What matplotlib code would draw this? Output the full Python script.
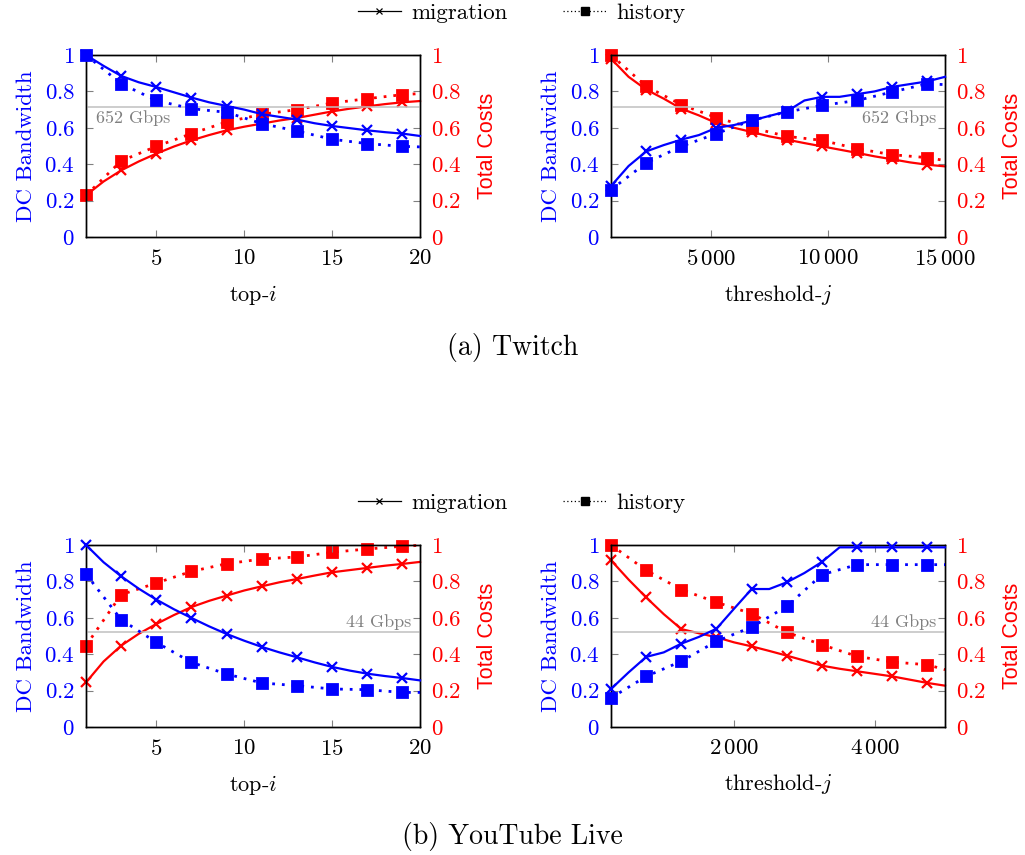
import matplotlib
matplotlib.use('Agg')
import matplotlib.pyplot as plt
from matplotlib.lines import Line2D
from matplotlib.ticker import FixedLocator, FuncFormatter

plt.rcParams['font.family'] = 'serif'
plt.rcParams['font.serif'] = ['cmr10']
plt.rcParams['mathtext.fontset'] = 'cm'
plt.rcParams['axes.unicode_minus'] = False
plt.rcParams['axes.formatter.use_mathtext'] = True

BLUE = '#0000ff'
RED = '#ff0000'

##### TWITCH #####
top_i = [1, 2, 3, 4, 5, 6, 7, 8, 9, 10, 11, 12, 13, 14, 15, 16, 17, 18, 19, 20]
top_i_hist = [1, 3, 5, 7, 9, 11, 13, 15, 17, 19, 20]

tw_top_mig_bw = [1.0, 0.94, 0.885, 0.85, 0.824, 0.795, 0.766, 0.74, 0.72, 0.70,
                 0.675, 0.66, 0.645, 0.625, 0.61, 0.598, 0.586, 0.576, 0.568, 0.555]
tw_top_mig_cost = [0.229, 0.305, 0.366, 0.415, 0.458, 0.497, 0.531, 0.56, 0.586, 0.606,
                   0.623, 0.64, 0.654, 0.672, 0.69, 0.705, 0.718, 0.73, 0.74, 0.747]
tw_top_hist_bw = [1.0, 0.842, 0.75, 0.705, 0.685, 0.623, 0.582, 0.537, 0.513, 0.498, 0.495]
tw_top_hist_cost = [0.229, 0.418, 0.498, 0.568, 0.632, 0.674, 0.70, 0.736, 0.76, 0.782, 0.788]

tw_thr = [750, 1500, 2250, 3000, 3750, 4500, 5250, 6000, 6750, 7500,
          8250, 9000, 9750, 10500, 11250, 12000, 12750, 13500, 14250, 15000]
tw_thr_hist = [750, 2250, 3750, 5250, 6750, 8250, 9750, 11250, 12750, 14250, 15000]

tw_thr_mig_bw = [0.28, 0.39, 0.47, 0.505, 0.535, 0.56, 0.60, 0.615, 0.64, 0.665,
                 0.69, 0.75, 0.77, 0.77, 0.785, 0.80, 0.825, 0.84, 0.855, 0.88]
tw_thr_mig_cost = [0.98, 0.88, 0.81, 0.76, 0.705, 0.668, 0.626, 0.60, 0.577, 0.553,
                   0.535, 0.516, 0.498, 0.48, 0.462, 0.443, 0.427, 0.41, 0.397, 0.388]
tw_thr_hist_bw = [0.26, 0.407, 0.498, 0.568, 0.641, 0.687, 0.723, 0.75, 0.797, 0.842, 0.837]
tw_thr_hist_cost = [1.0, 0.828, 0.727, 0.656, 0.60, 0.553, 0.531, 0.485, 0.452, 0.436, 0.42]

tw_ref = 0.714
tw_ref_label = '652 Gbps'

##### YOUTUBE LIVE #####
yt_top_mig_bw = [1.0, 0.905, 0.828, 0.76, 0.70, 0.647, 0.599, 0.553, 0.511, 0.474,
                 0.44, 0.41, 0.383, 0.355, 0.33, 0.31, 0.293, 0.28, 0.269, 0.256]
yt_top_mig_cost = [0.245, 0.36, 0.447, 0.512, 0.566, 0.615, 0.659, 0.693, 0.722, 0.75,
                   0.773, 0.795, 0.813, 0.832, 0.85, 0.862, 0.874, 0.886, 0.896, 0.907]
yt_top_hist_bw = [0.84, 0.59, 0.465, 0.355, 0.291, 0.242, 0.227, 0.209, 0.205, 0.19, 0.19]
yt_top_hist_cost = [0.447, 0.727, 0.791, 0.855, 0.897, 0.923, 0.934, 0.96, 0.978, 0.993, 0.998]

yt_thr = [250, 500, 750, 1000, 1250, 1500, 1750, 2000, 2250, 2500,
          2750, 3000, 3250, 3500, 3750, 4000, 4250, 4500, 4750, 5000]
yt_thr_hist = [250, 750, 1250, 1750, 2250, 2750, 3250, 3750, 4250, 4750, 5000]

yt_thr_mig_bw = [0.209, 0.30, 0.385, 0.41, 0.458, 0.495, 0.54, 0.65, 0.758, 0.758,
                 0.795, 0.846, 0.907, 0.987, 0.987, 0.987, 0.987, 0.987, 0.987, 0.987]
yt_thr_mig_cost = [0.916, 0.81, 0.712, 0.62, 0.538, 0.515, 0.493, 0.465, 0.443, 0.418,
                   0.392, 0.365, 0.337, 0.32, 0.306, 0.292, 0.278, 0.26, 0.242, 0.227]
yt_thr_hist_bw = [0.16, 0.278, 0.361, 0.471, 0.549, 0.663, 0.837, 0.892, 0.892, 0.892, 0.892]
yt_thr_hist_cost = [1.0, 0.861, 0.755, 0.685, 0.623, 0.52, 0.452, 0.388, 0.357, 0.342, 0.315]

yt_ref = 0.52
yt_ref_label = '44 Gbps'

y_ticks = [0, 0.2, 0.4, 0.6, 0.8, 1]

DOT = (0, (1, 2.5))
FS = 16.5


def num_fmt(v, pos):
    if v >= 1000:
        s = '{:,}'.format(int(v)).replace(',', r'\,')
    else:
        s = '{:g}'.format(v)
    return '$' + s + '$'


def panel(rect, x, x_hist, mig_bw, hist_bw, mig_cost, hist_cost, xticks, xlabel,
          ref, ref_label, ref_pos):
    ax = fig.add_axes(rect)
    ax2 = ax.twinx()
    mk = list(range(0, len(x), 2))
    hk = list(range(len(x_hist) - 1))

    ax.axhline(ref, color='#c0c0c0', lw=1.1, zorder=1)
    ax.plot(x, mig_bw, color=BLUE, lw=1.6, marker='x', ms=6.5, mew=1.6, markevery=mk,
            zorder=3, clip_on=False)
    ax.plot(x_hist, hist_bw, color=BLUE, lw=2.0, ls=DOT, marker='s', ms=7.5, mew=2,
            markevery=hk, zorder=3, clip_on=False)
    ax2.plot(x, mig_cost, color=RED, lw=1.6, marker='x', ms=6.5, mew=1.6, markevery=mk,
             clip_on=False)
    ax2.plot(x_hist, hist_cost, color=RED, lw=2.0, ls=DOT, marker='s', ms=7.5, mew=2,
             markevery=hk, clip_on=False)

    for a in (ax, ax2):
        a.set_xlim(x[0], x[-1])
        a.set_ylim(0, 1)
        a.yaxis.set_major_locator(FixedLocator(y_ticks))
        a.yaxis.set_major_formatter(FuncFormatter(num_fmt))
        for s in a.spines.values():
            s.set_linewidth(1.0)
    ax.xaxis.set_major_locator(FixedLocator(xticks))
    ax.xaxis.set_major_formatter(FuncFormatter(num_fmt))
    ax.tick_params(axis='x', direction='in', top=True, bottom=True, length=5,
                   width=0.8, color='#808080', labelsize=FS, pad=8.5)
    ax.tick_params(axis='y', direction='in', left=True, right=False, length=5,
                   width=0.8, color='#808080', labelsize=FS, labelcolor=BLUE, pad=8)
    ax2.tick_params(axis='y', direction='in', left=False, right=True, length=5,
                    width=0.8, color='#808080', labelsize=FS, labelcolor=RED, pad=8)

    ax.set_xlabel(xlabel, fontsize=16, labelpad=10)
    ax.set_ylabel('DC Bandwidth', fontsize=16.5, color=BLUE, labelpad=6)
    ax2.set_ylabel('Total Costs', fontsize=15.5, color=RED, family='Liberation Sans',
                   labelpad=11)

    tr = ax.get_yaxis_transform()
    if ref_pos == 'left':
        ax.text(0.03, ref - 0.015, ref_label, transform=tr, ha='left', va='top',
                fontsize=13, color='#808080')
    elif ref_pos == 'right_below':
        ax.text(0.975, ref - 0.015, ref_label, transform=tr, ha='right', va='top',
                fontsize=13, color='#808080')
    else:
        ax.text(0.975, ref + 0.015, ref_label, transform=tr, ha='right', va='bottom',
                fontsize=13, color='#808080')
    ax.set_zorder(ax2.get_zorder() + 1)
    ax.patch.set_visible(False)
    return ax


fig = plt.figure(figsize=(10.25, 8.55), dpi=100)

W = 0.3259
H = 0.2129
panel([0.0839, 0.7228, W, H], top_i, top_i_hist, tw_top_mig_bw, tw_top_hist_bw,
      tw_top_mig_cost, tw_top_hist_cost, [5, 10, 15, 20], r'top-$i$', tw_ref, tw_ref_label, 'left')
panel([0.5961, 0.7228, W, H], tw_thr, tw_thr_hist, tw_thr_mig_bw, tw_thr_hist_bw,
      tw_thr_mig_cost, tw_thr_hist_cost, [5000, 10000, 15000], r'threshold-$j$', tw_ref,
      tw_ref_label, 'right_below')
panel([0.0839, 0.1497, W, H], top_i, top_i_hist, yt_top_mig_bw, yt_top_hist_bw,
      yt_top_mig_cost, yt_top_hist_cost, [5, 10, 15, 20], r'top-$i$', yt_ref, yt_ref_label, 'right_above')
panel([0.5961, 0.1497, W, H], yt_thr, yt_thr_hist, yt_thr_mig_bw, yt_thr_hist_bw,
      yt_thr_mig_cost, yt_thr_hist_cost, [2000, 4000], r'threshold-$j$', yt_ref,
      yt_ref_label, 'right_above')

handles = [Line2D([], [], color='k', lw=0.9, marker='x', ms=5, mew=0.9),
           Line2D([], [], color='k', lw=0.9, ls=(0, (1, 2)), marker='s', ms=6)]
labels = ['migration', 'history']
for ly in (0.985, 0.412):
    fig.legend(handles, labels, loc='center', bbox_to_anchor=(0.509, ly), ncol=2,
               frameon=False, fontsize=16.5, handlelength=1.9, handletextpad=0.45,
               columnspacing=2.4)

fig.text(0.5, 0.594, '(a) Twitch', ha='center', va='center', fontsize=20)
fig.text(0.5, 0.022, '(b) YouTube Live', ha='center', va='center', fontsize=20)

fig.savefig('out.png', dpi=100)
